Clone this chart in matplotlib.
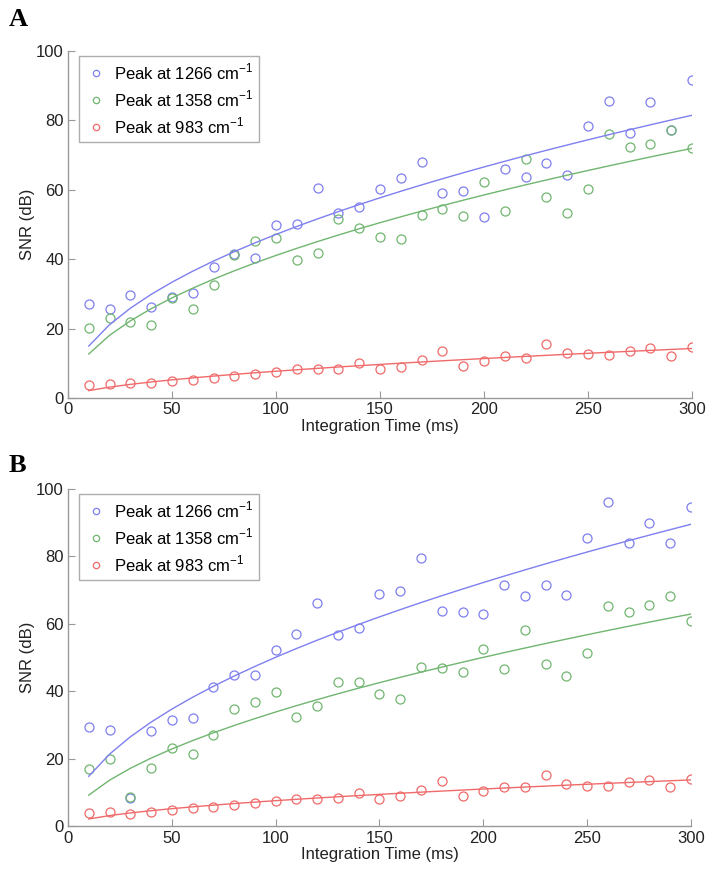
import numpy as np
import matplotlib
matplotlib.use('Agg')
import matplotlib.pyplot as plt

# ------------------- DATA -------------------
t_ms = np.arange(10, 301, 10)

# panel A
a_1266 = [27.0, 25.8, 29.7, 26.1, 29.0, 30.2, 37.8, 41.5, 40.4, 49.8,
          50.1, 60.6, 53.2, 55.0, 60.2, 63.4, 68.1, 59.0, 59.8, 52.3,
          65.9, 63.7, 67.7, 64.2, 78.5, 85.7, 76.4, 85.4, 77.3, 91.6]
a_1358 = [20.2, 23.1, 22.0, 21.1, 28.7, 25.6, 32.7, 41.2, 45.3, 46.2,
          39.9, 41.7, 51.6, 49.1, 46.5, 45.7, 52.8, 54.4, 52.4, 62.2,
          54.0, 68.8, 57.8, 53.3, 60.3, 76.1, 72.3, 73.1, 77.1, 72.0]
a_983 = [3.7, 4.1, 4.4, 4.2, 4.9, 5.3, 5.8, 6.4, 7.0, 7.5,
         8.3, 8.3, 8.5, 10.0, 8.3, 9.0, 10.9, 13.5, 9.2, 10.8,
         12.1, 11.6, 15.6, 13.0, 12.7, 12.5, 13.6, 14.4, 12.1, 14.6]

# panel B
b_1266 = [29.4, 28.6, 8.4, 28.3, 31.6, 32.2, 41.3, 45.0, 44.9, 52.3,
          56.9, 66.3, 56.7, 58.9, 68.8, 69.7, 79.6, 63.9, 63.5, 62.9,
          71.6, 68.3, 71.6, 68.5, 85.5, 96.1, 84.0, 89.8, 83.9, 94.6]
b_1358 = [16.9, 19.9, 8.6, 17.4, 23.2, 21.5, 27.1, 34.8, 36.8, 39.8,
          32.4, 35.8, 42.8, 42.8, 39.3, 37.7, 47.2, 47.0, 45.7, 52.5,
          46.7, 58.2, 48.1, 44.6, 51.5, 65.2, 63.5, 65.6, 68.2, 60.9]
b_983 = [4.1, 4.3, 3.6, 4.2, 4.9, 5.4, 5.8, 6.5, 6.9, 7.5,
         8.1, 8.2, 8.4, 9.8, 8.1, 8.9, 10.8, 13.6, 8.9, 10.4,
         11.7, 11.6, 15.3, 12.7, 12.1, 12.0, 13.3, 13.8, 11.6, 14.0]

labels = ['Peak at 1266 cm$^{-1}$', 'Peak at 1358 cm$^{-1}$', 'Peak at 983 cm$^{-1}$']
colors = ['#7f7ff0', '#70b670', '#f06a6a']

plt.rcParams['font.family'] = ['Liberation Sans', 'DejaVu Sans']
plt.rcParams['mathtext.fontset'] = 'custom'
plt.rcParams['mathtext.rm'] = 'Liberation Sans'


def power_fit(x, y):
    # least squares fit of y = a * x^b (linear space), scan over b
    best = None
    for b in np.linspace(0.2, 1.0, 801):
        xb = x ** b
        a = np.sum(y * xb) / np.sum(xb * xb)
        err = np.sum((y - a * xb) ** 2)
        if best is None or err < best[0]:
            best = (err, a, b)
    return best[1] * x ** best[2]


def draw(ax, series):
    for y, c, lab in zip(series, colors, labels):
        ax.plot(t_ms, y, 'o', mfc='none', mec=c, ms=6.5, mew=0.9, label=lab)
    for y, c in zip(series, colors):
        ax.plot(t_ms, power_fit(t_ms, np.array(y)), '-', color=c, lw=1.0)
    ax.set_xlim(0, 300)
    ax.set_ylim(0, 100)
    ax.set_xticks(np.arange(0, 301, 50))
    ax.set_yticks(np.arange(0, 101, 20))
    for s in ['top', 'right']:
        ax.spines[s].set_visible(False)
    for s in ['left', 'bottom']:
        ax.spines[s].set_color('#999999')
        ax.spines[s].set_linewidth(1.0)
    ax.tick_params(direction='in', length=5, color='#999999', labelsize=12,
                   labelcolor='#222222', pad=3)
    ax.set_xlabel('Integration Time (ms)', fontsize=12, color='#222222', labelpad=1)
    ax.set_ylabel('SNR (dB)', fontsize=12, color='#222222', labelpad=1)
    leg = ax.legend(loc='upper left', bbox_to_anchor=(0.0176, 0.986), borderaxespad=0,
                    fontsize=12, frameon=True, fancybox=False, markerscale=0.7,
                    handletextpad=0.35, borderpad=0.35, labelspacing=0.38,
                    handlelength=1.4)
    leg.get_frame().set_edgecolor('#999999')
    leg.get_frame().set_linewidth(1.0)


fig = plt.figure(figsize=(7.2, 8.81), dpi=100)
axA = fig.add_axes([0.0944, 0.5482, 0.8667, 0.3939])
axB = fig.add_axes([0.0944, 0.0619, 0.8653, 0.3831])
draw(axA, [a_1266, a_1358, a_983])
draw(axB, [b_1266, b_1358, b_983])

fig.text(0.012, 0.978, 'A', fontsize=19, fontweight='bold',
         family=['Liberation Serif', 'DejaVu Serif'], va='center')
fig.text(0.012, 0.472, 'B', fontsize=19, fontweight='bold',
         family=['Liberation Serif', 'DejaVu Serif'], va='center')

fig.savefig('out.png', dpi=100)
